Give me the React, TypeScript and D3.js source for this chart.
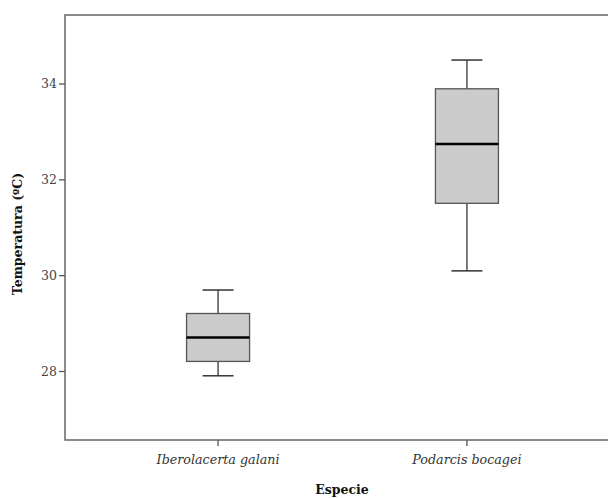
import React from 'react';
import * as d3 from 'd3';

const especies = ['Iberolacerta galani', 'Podarcis bocagei'];
const minimos = [27.91, 30.1];
const cuartil1 = [28.21, 31.51];
const medianas = [28.71, 32.75];
const cuartil3 = [29.21, 33.9];
const maximos = [29.7, 34.5];
const yTicks = [28, 30, 32, 34];

const W = 608;
const H = 498;
const margin = { top: 15, right: -12, bottom: 58, left: 65 };
const font = '"DejaVu Serif", serif';

const App: React.FC = () => {
    const innerW = W - margin.left - margin.right;
    const innerH = H - margin.top - margin.bottom;

    const x = d3.scalePoint<string>()
        .domain(especies)
        .range([0, innerW])
        .padding(0.615);

    const y = d3.scaleLinear()
        .domain([26.57, 35.44])
        .range([innerH, 0]);

    const boxW = 63;
    const capW = 31;

    return (
        <div style={{ position: 'fixed', left: 0, top: 0 }}>
            <svg width={W} height={H} style={{ display: 'block', background: '#fff' }}>
                <g transform={`translate(${margin.left},${margin.top})`}>
                    {/* boxes */}
                    {especies.map((e, i) => {
                        const cx = x(e) as number;
                        return (
                            <g key={e}>
                                <line x1={cx} x2={cx} y1={y(maximos[i])} y2={y(cuartil3[i])} stroke="#333" strokeWidth={1.3} />
                                <line x1={cx} x2={cx} y1={y(cuartil1[i])} y2={y(minimos[i])} stroke="#333" strokeWidth={1.3} />
                                <line x1={cx - capW / 2} x2={cx + capW / 2} y1={y(maximos[i])} y2={y(maximos[i])} stroke="#333" strokeWidth={1.5} />
                                <line x1={cx - capW / 2} x2={cx + capW / 2} y1={y(minimos[i])} y2={y(minimos[i])} stroke="#333" strokeWidth={1.5} />
                                <rect
                                    x={cx - boxW / 2}
                                    y={y(cuartil3[i])}
                                    width={boxW}
                                    height={y(cuartil1[i]) - y(cuartil3[i])}
                                    fill="#cccccc"
                                    stroke="#555"
                                    strokeWidth={1.3}
                                />
                                <line x1={cx - boxW / 2} x2={cx + boxW / 2} y1={y(medianas[i])} y2={y(medianas[i])} stroke="#000" strokeWidth={2.5} />
                            </g>
                        );
                    })}

                    {/* frame */}
                    <rect x={0} y={0} width={innerW} height={innerH} fill="none" stroke="#666" strokeWidth={1.5} />

                    {/* y axis */}
                    {yTicks.map(t => (
                        <g key={t} transform={`translate(0,${y(t)})`}>
                            <line x1={-6} x2={0} stroke="#555" strokeWidth={1.3} />
                            <text x={-8} dy="0.35em" textAnchor="end" fontFamily={font} fontSize={12.5} fill="#444">{t}</text>
                        </g>
                    ))}

                    {/* x axis */}
                    {especies.map(e => (
                        <g key={e} transform={`translate(${x(e)},${innerH})`}>
                            <line y1={0} y2={6} stroke="#555" strokeWidth={1.3} />
                            <text y={24} textAnchor="middle" fontFamily={font} fontStyle="italic" fontSize={12.7} fill="#333">{e}</text>
                        </g>
                    ))}
                </g>

                <text x={342} y={494} textAnchor="middle" fontFamily={font} fontWeight="bold" fontSize={12.5} fill="#111">Especie</text>
                <text
                    transform={`translate(22,${234}) rotate(-90)`}
                    textAnchor="middle"
                    fontFamily={font}
                    fontWeight="bold"
                    fontSize={12.5}
                    fill="#111"
                >
                    Temperatura (ºC)
                </text>
            </svg>
        </div>
    );
};

export default App;
